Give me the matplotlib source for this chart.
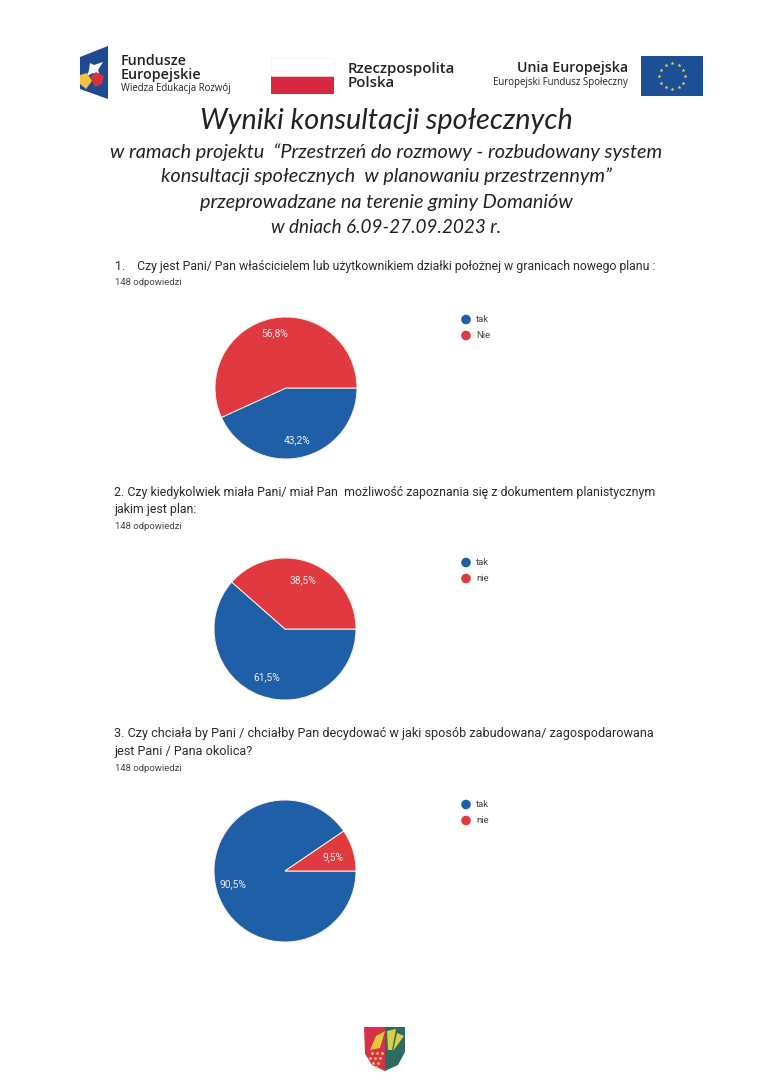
import numpy as np
import matplotlib
matplotlib.use("Agg")
import matplotlib.pyplot as plt
from matplotlib.patches import Polygon, Rectangle, Circle

BLUE = "#1f5fa8"
RED = "#e0393f"
TEXT = "#2b2b2b"

title_main = "Wyniki konsultacji społecznych"
title_sub = [
    "w ramach projektu  “Przestrzeń do rozmowy - rozbudowany system",
    "konsultacji społecznych  w planowaniu przestrzennym”",
    "przeprowadzane na terenie gminy Domaniów",
    "w dniach 6.09-27.09.2023 r.",
]
q1_lines = ["1.    Czy jest Pani/ Pan właścicielem lub użytkownikiem działki położnej w granicach nowego planu :"]
q2_lines = ["2. Czy kiedykolwiek miała Pani/ miał Pan  możliwość zapoznania się z dokumentem planistycznym",
            "jakim jest plan:"]
q3_lines = ["3. Czy chciała by Pani / chciałby Pan decydować w jaki sposób zabudowana/ zagospodarowana",
            "jest Pani / Pana okolica?"]
responses = "148 odpowiedzi"

q1_labels = ["tak", "Nie"]
q1_values = [43.2, 56.8]
q2_labels = ["tak", "nie"]
q2_values = [61.5, 38.5]
q3_labels = ["tak", "nie"]
q3_values = [90.5, 9.5]

W, H = 764, 1080
fig = plt.figure(figsize=(W / 100, H / 100), dpi=100, facecolor="white")
bg = fig.add_axes([0, 0, 1, 1])
bg.set_xlim(0, W)
bg.set_ylim(H, 0)
bg.axis("off")


def pie(values, cx, cy, r, label_pos):
    ax = fig.add_axes([(cx - r) / W, 1 - (cy + r) / H, 2 * r / W, 2 * r / H])
    ax.pie(values, colors=[BLUE, RED], startangle=0, counterclock=False, radius=1,
           wedgeprops=dict(edgecolor="#fbf3e6", linewidth=0.7))
    ax.set_xlim(-1, 1)
    ax.set_ylim(-1, 1)
    ax.axis("off")
    for v, (px, py) in zip(values, label_pos):
        fig.text(px / W, 1 - py / H, f"{v:.1f}%".replace(".", ","), color="#f4ecec",
                 fontsize=7.4, family="Roboto", ha="center", va="center")


def legend(labels, x, ys):
    for lab, y, c in zip(labels, ys, [BLUE, RED]):
        bg.add_patch(Circle((x, y), 4.8, color=c, lw=0))
        bg.text(x + 10, y, lab, fontsize=6.8, family="Roboto", color="#444444", va="center", ha="left")


def question(lines, x, y0, dy, y_resp, size):
    for i, line in enumerate(lines):
        bg.text(x, y0 + i * dy, line, fontsize=size, family="Roboto", color=TEXT, va="center", ha="left")
    bg.text(115, y_resp, responses, fontsize=6.8, family="Roboto", color="#444444", va="center", ha="left")


# Title block
bg.text(386, 121, title_main, fontsize=20.8, family="Lato", style="italic", color="#222222",
        ha="center", va="center")
for y, line, size in zip([152.5, 176.5, 202.5, 227.5], title_sub, [14.3, 14.3, 14.3, 13.6]):
    bg.text(386, y, line, fontsize=size, family="Lato", style="italic", color="#222222",
            ha="center", va="center")

# Questions
question(q1_lines, 115, 266.5, 17, 282.5, 8.85)
question(q2_lines, 114, 492.5, 17.5, 526.5, 8.9)
question(q3_lines, 114, 733.5, 18, 768.5, 9.1)

# Pies
pie(q1_values, 286, 388, 71, [(297, 440), (275, 333)])
pie(q2_values, 285, 629, 71, [(267, 677), (303, 580)])
pie(q3_values, 285, 871, 71, [(233, 884), (333, 857)])

legend(q1_labels, 466, [319.5, 335.5])
legend(q2_labels, 466, [562.5, 578.5])
legend(q3_labels, 466, [804.5, 820.5])

# Header logos
bg.add_patch(Polygon([(80, 57), (108, 46), (108, 99), (80, 89)], color="#1e4a92", lw=0))
bg.add_patch(Polygon([(90, 63), (94, 65), (103, 62), (98, 70), (100, 76), (93, 73), (87, 76), (89, 70)],
                     color="white", lw=0))
bg.add_patch(Polygon([(80, 84), (80, 75), (87, 73), (92, 81), (86, 89)], color="#f3c33c", lw=0))
bg.add_patch(Polygon([(90, 77), (96, 72), (104, 76), (102, 84), (95, 87)], color="#d9303e", lw=0))
bg.text(121, 61, "Fundusze", fontsize=10.3, family="Open Sans", weight="semibold", color="#222222", va="center")
bg.text(121, 75, "Europejskie", fontsize=10.3, family="Open Sans", weight="semibold", color="#222222", va="center")
bg.text(121, 89, "Wiedza Edukacja Rozwój", fontsize=6.9, family="Open Sans", color="#222222", va="center")

bg.add_patch(Rectangle((271, 76), 63, 18, color="#d8283f", lw=0))
bg.add_patch(Rectangle((271, 58), 63, 18, facecolor="white", edgecolor="#eeeeee", lw=0.4))
bg.text(348, 69, "Rzeczpospolita", fontsize=10.8, family="Open Sans", weight="semibold", color="#222222", va="center")
bg.text(348, 83, "Polska", fontsize=10.8, family="Open Sans", weight="semibold", color="#222222", va="center")

bg.text(628, 68, "Unia Europejska", fontsize=10.2, family="Open Sans", weight="semibold", color="#222222",
        va="center", ha="right")
bg.text(628, 83, "Europejski Fundusz Społeczny", fontsize=6.9, family="Open Sans", color="#222222",
        va="center", ha="right")
bg.add_patch(Rectangle((641, 56), 62, 40, color="#1d4f96", lw=0))
ang = np.deg2rad(np.arange(0, 360, 30))
bg.scatter(672 + 13 * np.cos(ang), 76 + 13 * np.sin(ang), s=9, c="#f5d94a", marker="*", linewidths=0)

# Footer crest
bg.add_patch(Polygon([(364, 1027), (385, 1027), (385, 1071), (372, 1065), (365, 1054)], color="#d9304a", lw=0))
bg.add_patch(Polygon([(385, 1027), (405, 1027), (405, 1052), (398, 1065), (385, 1071)], color="#2d6b62", lw=0))
bg.add_patch(Polygon([(370, 1050), (376, 1036), (385, 1031), (380, 1048)], color="#e5c93c", lw=0))
bg.add_patch(Polygon([(387, 1031), (396, 1029), (392, 1050), (388, 1050)], color="#d8cf45", lw=0))
bg.add_patch(Polygon([(397, 1033), (404, 1036), (393, 1051)], color="#d8cf45", lw=0))
bg.scatter([372, 377, 382, 370, 375, 380, 373, 378, 376], [1053, 1053, 1053, 1058, 1058, 1058, 1063, 1063, 1067],
           s=4, c="#f0d060", linewidths=0)

fig.savefig("out.png", dpi=100, facecolor="white")
